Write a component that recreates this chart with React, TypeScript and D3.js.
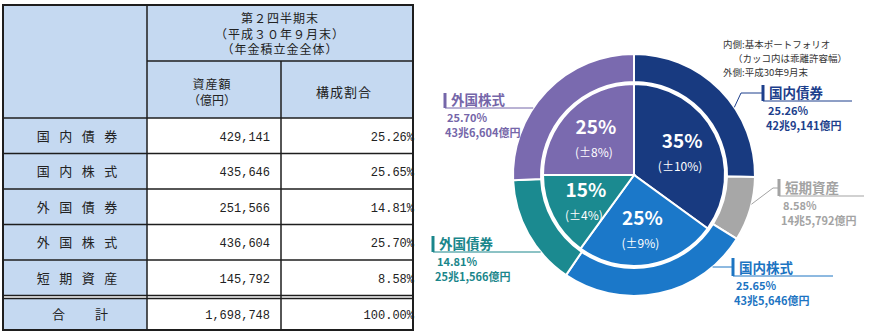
import { useMemo } from "react";
import * as d3 from "d3";

// table data (table order)
const categories = ["国内債券", "国内株式", "外国債券", "外国株式", "短期資産"];
const amounts = [429141, 435646, 251566, 436604, 145792];
const shares = [25.26, 25.65, 14.81, 25.7, 8.58];
const totalLabel = "合計";
const totalAmount = 1698748;
const totalShare = 100.0;

// outer ring order (clockwise from top)
const ringOrder = ["国内債券", "短期資産", "国内株式", "外国債券", "外国株式"];

// inner ring: basic portfolio
const policyCategories = ["国内債券", "国内株式", "外国債券", "外国株式"];
const policyTargets = [35, 25, 15, 25];
const policyBands = [10, 9, 4, 8];

const headerLines = ["第２四半期末", "（平成３０年９月末）", "（年金積立金全体）"];
const noteLines = ["内側:基本ポートフォリオ", "（カッコ内は乖離許容幅）", "外側:平成30年9月末"];

const colors: Record<string, string> = {
    国内債券: "#183a80",
    国内株式: "#1b78c9",
    外国債券: "#1b8a90",
    外国株式: "#7a6aaf",
    短期資産: "#a7a7a7",
};
const labelColors: Record<string, string> = {
    国内債券: "#1d3f8c",
    国内株式: "#1c74c2",
    外国債券: "#1a868b",
    外国株式: "#7566a9",
    短期資産: "#a3a3a3",
};

// callout layout (bar x, bar top, bar bottom, underline end, value x)
const callouts: Record<string, { x: number; top: number; bottom: number; lineTo: number | "ring"; vx: number }> = {
    国内債券: { x: 763, top: 85, bottom: 101, lineTo: 852, vx: 768 },
    短期資産: { x: 779, top: 179, bottom: 196, lineTo: 864, vx: 783 },
    国内株式: { x: 733, top: 258, bottom: 276, lineTo: 833, vx: 736 },
    外国債券: { x: 433, top: 236, bottom: 252, lineTo: "ring", vx: 437 },
    外国株式: { x: 445, top: 93, bottom: 108, lineTo: "ring", vx: 447 },
};

const FONT = "'Noto Sans CJK JP', 'Noto Sans', sans-serif";
const MONO = "'Liberation Mono', 'DejaVu Sans Mono', monospace";

const cx = 634;
const cy = 175;
const rOuter = 121;
const rRingIn = 93;
const rInner = 91;

const fmtAmount = (a: number) =>
    `${Math.floor(a / 10000)}兆${d3.format(",")(a % 10000)}億円`;

// spaced-out label: one text per character
const Spaced = ({ text, cx, y, step }: { text: string; cx: number; y: number; step: number }) => {
    const chars = Array.from(text);
    return (
        <>
            {chars.map((ch, j) => (
                <text key={j} x={cx + (j - (chars.length - 1) / 2) * step} y={y} textAnchor="middle" fontSize={13}>
                    {ch}
                </text>
            ))}
        </>
    );
};

const Table = () => {
    const colX = [3, 147, 281, 413];
    const rowY = d3.scaleBand<string>().domain(categories).range([118, 295.5]);
    const bw = rowY.bandwidth();
    const fmt = d3.format(",");
    const bg = "#c5d9f1";
    const line = "#1e1e1e";
    const labelCx = (colX[0] + colX[1]) / 2 + 2;
    return (
        <g fontFamily={FONT} fill="#222">
            <rect x={colX[0]} y={5} width={colX[3] - colX[0]} height={113} fill={bg} />
            {categories.map((c) => (
                <rect key={c} x={colX[0]} y={rowY(c)} width={colX[1] - colX[0]} height={bw} fill={bg} />
            ))}
            <rect x={colX[0]} y={298} width={colX[1] - colX[0]} height={32} fill={bg} />
            {/* header text */}
            {headerLines.map((t, i) => (
                <text key={t} x={(colX[1] + colX[3]) / 2} y={23 + i * 15.5} textAnchor="middle" fontSize={12} letterSpacing={1}>
                    {t}
                </text>
            ))}
            <text x={(colX[1] + colX[2]) / 2 - 2} y={89} textAnchor="middle" fontSize={12} letterSpacing={1}>資産額</text>
            <text x={(colX[1] + colX[2]) / 2 - 2} y={105} textAnchor="middle" fontSize={12}>（億円）</text>
            <text x={(colX[2] + colX[3]) / 2 - 3} y={97} textAnchor="middle" fontSize={13} letterSpacing={1}>構成割合</text>
            {categories.map((c, i) => {
                const y = (rowY(c) as number) + bw / 2 + 5;
                return (
                    <g key={c}>
                        <Spaced text={c} cx={labelCx} y={y} step={22.5} />
                        <text x={colX[2] - 11} y={y} textAnchor="end" fontSize={12} fontFamily={MONO}>
                            {fmt(amounts[i])}
                        </text>
                        <text x={colX[3] + 1} y={y} textAnchor="end" fontSize={12} fontFamily={MONO}>
                            {shares[i].toFixed(2)}%
                        </text>
                    </g>
                );
            })}
            <Spaced text={totalLabel} cx={labelCx + 3} y={319} step={43} />
            <text x={colX[2] - 11} y={319} textAnchor="end" fontSize={12} fontFamily={MONO}>
                {fmt(totalAmount)}
            </text>
            <text x={colX[3] + 1} y={319} textAnchor="end" fontSize={12} fontFamily={MONO}>
                {totalShare.toFixed(2)}%
            </text>
            {/* grid lines */}
            <g stroke={line} strokeWidth={1.5} fill="none">
                <rect x={colX[0]} y={5} width={colX[3] - colX[0]} height={325} strokeWidth={2} />
                <line x1={colX[1]} x2={colX[1]} y1={5} y2={330} />
                <line x1={colX[2]} x2={colX[2]} y1={61} y2={330} />
                <line x1={colX[1]} x2={colX[3]} y1={61} y2={61} />
                <line x1={colX[0]} x2={colX[3]} y1={118} y2={118} />
                {categories.slice(1).map((c) => (
                    <line key={c} x1={colX[0]} x2={colX[3]} y1={rowY(c)} y2={rowY(c)} />
                ))}
                <line x1={colX[0]} x2={colX[3]} y1={295.5} y2={295.5} />
                <line x1={colX[0]} x2={colX[3]} y1={298.5} y2={298.5} />
            </g>
        </g>
    );
};

const Donut = () => {
    const outer = useMemo(() => {
        const pie = d3.pie<string>().sort(null).value((c) => shares[categories.indexOf(c)]);
        return pie(ringOrder);
    }, []);
    const inner = useMemo(() => {
        const pie = d3.pie<number>().sort(null).value((d) => d);
        return pie(policyTargets);
    }, []);
    const outerArc = d3.arc<d3.PieArcDatum<string>>().innerRadius(rRingIn).outerRadius(rOuter);
    const innerArc = d3.arc<d3.PieArcDatum<number>>().innerRadius(0).outerRadius(rInner);
    const labelArc = d3.arc<d3.PieArcDatum<number>>().innerRadius(54).outerRadius(54);

    const ringX = (y: number, side: number) => cx + side * Math.sqrt(rOuter * rOuter - (y - cy) * (y - cy));
    const ringPoint = (deg: number) => {
        const a = (deg * Math.PI) / 180;
        return [cx + rOuter * Math.sin(a), cy - rOuter * Math.cos(a)];
    };

    return (
        <g fontFamily={FONT}>
            <g transform={`translate(${cx},${cy})`}>
                {outer.map((d) => (
                    <path key={d.data} d={outerArc(d) || ""} fill={colors[d.data]} stroke="#fff" strokeWidth={2} />
                ))}
                {inner.map((d, i) => (
                    <path key={i} d={innerArc(d) || ""} fill={colors[policyCategories[i]]} stroke="#fff" strokeWidth={2} />
                ))}
                {inner.map((d, i) => {
                    const [x, y] = labelArc.centroid(d);
                    return (
                        <g key={i} fill="#fff" textAnchor="middle">
                            <text x={x} y={y - 3} fontSize={19} fontWeight="bold">
                                {policyTargets[i]}%
                            </text>
                            <text x={x - 2} y={y + 20} fontSize={12}>
                                (±{policyBands[i]}%)
                            </text>
                        </g>
                    );
                })}
            </g>
            {/* note */}
            {noteLines.map((t, i) => (
                <text key={t} x={i === 1 ? 733 : 723} y={48 + i * 14} fontSize={9.5} fill="#333">
                    {t}
                </text>
            ))}
            {/* callouts */}
            {ringOrder.map((c) => {
                const o = callouts[c];
                const col = labelColors[c];
                const i = categories.indexOf(c);
                const left = o.lineTo === "ring";
                const lineEnd = left ? ringX(o.bottom, -1) : (o.lineTo as number);
                let leader: string | null = null;
                if (c === "国内債券") {
                    const [px, py] = ringPoint(56);
                    leader = `M${px},${py}L741,93L${o.x},93`;
                } else if (c === "短期資産") {
                    const [px, py] = ringPoint(104);
                    leader = `M${px},${py}L773,188L${o.x},188`;
                } else if (c === "国内株式") {
                    leader = `M${ringX(267, 1)},267L${o.x},267`;
                }
                return (
                    <g key={c}>
                        {leader && <path d={leader} fill="none" stroke={col} strokeWidth={1} />}
                        <line x1={o.x} x2={lineEnd} y1={o.bottom} y2={o.bottom} stroke={col} strokeWidth={1} />
                        <line x1={o.x} x2={o.x} y1={o.top} y2={o.bottom} stroke={col} strokeWidth={3} />
                        <text x={o.x + 6} y={o.bottom - 3} fontSize={13.5} fontWeight="bold" fill={col}>
                            {c}
                        </text>
                        <text x={o.vx} y={o.bottom + 14} fontSize={11} fontWeight="bold" fill={col}>
                            {shares[i].toFixed(2)}%
                        </text>
                        <text x={o.vx - 2} y={o.bottom + 29} fontSize={11} fontWeight="bold" fill={col}>
                            {fmtAmount(amounts[i])}
                        </text>
                    </g>
                );
            })}
        </g>
    );
};

export default function App() {
    return (
        <svg width={870} height={334} style={{ position: "absolute", left: 0, top: 0, background: "#fff" }}>
            <Table />
            <Donut />
        </svg>
    );
}
